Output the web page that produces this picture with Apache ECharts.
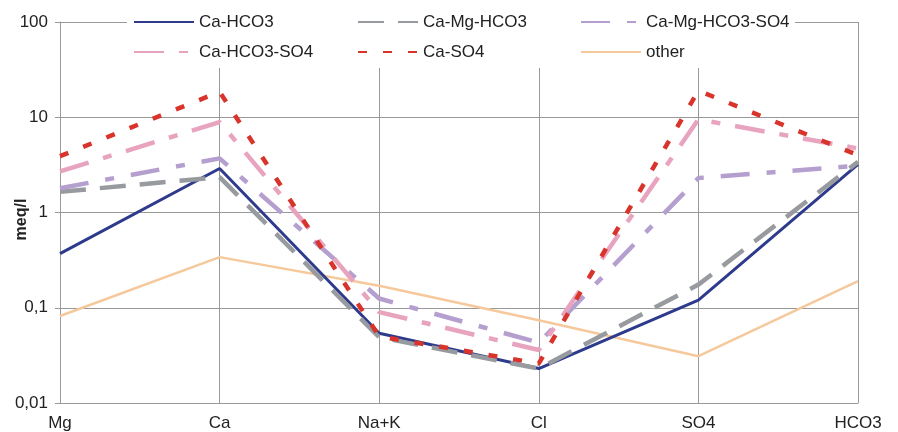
<!DOCTYPE html>
<html lang="en">
<head>
<meta charset="UTF-8">
<title>meq/l</title>
<script src="https://cdn.jsdelivr.net/npm/echarts@6/dist/echarts.min.js"></script>
</head>
<body style="margin:0">
<div id="main" style="width:898px;height:432px;"></div>
<script type="text/javascript">
    // ions along the x axis
    var ions = ['Mg', 'Ca', 'Na+K', 'Cl', 'SO4', 'HCO3'];
    // water types, values in meq/l
    var caHco3      = [0.37, 2.9, 0.054, 0.023, 0.12, 3.2];
    var caMgHco3    = [1.65, 2.35, 0.049, 0.023, 0.175, 3.4];
    var caMgHco3So4 = [1.8, 3.7, 0.125, 0.043, 2.3, 3.1];
    var caHco3So4   = [2.7, 8.9, 0.09, 0.036, 9.5, 4.7];
    var caSo4       = [3.9, 18.5, 0.05, 0.026, 19, 4.0];
    var other       = [0.082, 0.34, 0.17, 0.074, 0.031, 0.19];

    var myChart = echarts.init(document.getElementById('main'));
    var font = 'Liberation Sans, Arial, sans-serif';

    function line(name, data, color, width, dash) {
        return {
            name: name,
            type: 'line',
            data: data,
            symbol: 'none',
            lineStyle: { color: color, width: width, type: dash || 'solid', cap: 'butt' },
            itemStyle: { color: color }
        };
    }

    function legendCol(left, names) {
        return {
            orient: 'vertical',
            left: left,
            top: 12,
            padding: 0,
            itemWidth: 60,
            itemHeight: 14,
            itemGap: 10,
            data: names,
            itemStyle: { opacity: 0 },
            textStyle: { fontFamily: font, fontSize: 17, color: '#222', lineHeight: 20 }
        };
    }

    var option = {
        animation: false,
        grid: { left: 60, right: 40, top: 22, bottom: 29, containLabel: false, outerBoundsMode: 'none' },
        graphic: [{
            type: 'rect', z: 3,
            shape: { x: 127, y: 0, width: 668, height: 68 },
            style: { fill: '#fff' }
        }],
        legend: [
            legendCol(133, ['Ca-HCO3', 'Ca-HCO3-SO4']),
            legendCol(357, ['Ca-Mg-HCO3', 'Ca-SO4']),
            legendCol(580, ['Ca-Mg-HCO3-SO4', 'other'])
        ],
        xAxis: {
            type: 'category',
            data: ions,
            boundaryGap: false,
            axisLine: { lineStyle: { color: '#999' } },
            axisTick: { show: false },
            axisLabel: { fontFamily: font, fontSize: 17, color: '#222', margin: 12 },
            splitLine: { show: true, lineStyle: { color: '#999', width: 1 } }
        },
        yAxis: {
            type: 'log',
            logBase: 10,
            min: 0.01,
            max: 100,
            name: 'meq/l',
            nameLocation: 'middle',
            nameRotate: 90,
            nameGap: 30,
            nameMoveOverlap: false,
            nameTextStyle: { fontFamily: font, fontSize: 16, fontWeight: 'bold', color: '#222', padding: [0, 14, 0, 0] },
            axisLine: { show: true, lineStyle: { color: '#999' } },
            axisTick: { show: true, length: 5, lineStyle: { color: '#999' } },
            axisLabel: {
                fontFamily: font, fontSize: 17, color: '#222', margin: 12,
                formatter: function (v) { return String(Number(v.toPrecision(6))).replace('.', ','); }
            },
            splitLine: { show: true, lineStyle: { color: '#999', width: 1 } }
        },
        series: [
            line('other', other, '#f5c99b', 2.5),
            line('Ca-HCO3', caHco3, '#2e3b8c', 3),
            line('Ca-Mg-HCO3', caMgHco3, '#979a9e', 4.5, [26, 14]),
            line('Ca-Mg-HCO3-SO4', caMgHco3So4, '#b49fcf', 4.5, [29, 17, 9, 17]),
            line('Ca-HCO3-SO4', caHco3So4, '#e8a4bf', 4.5, [30, 15, 9, 15]),
            line('Ca-SO4', caSo4, '#d9342b', 4.5, [9, 16])
        ]
    };

    myChart.setOption(option);
</script>
</body>
</html>
